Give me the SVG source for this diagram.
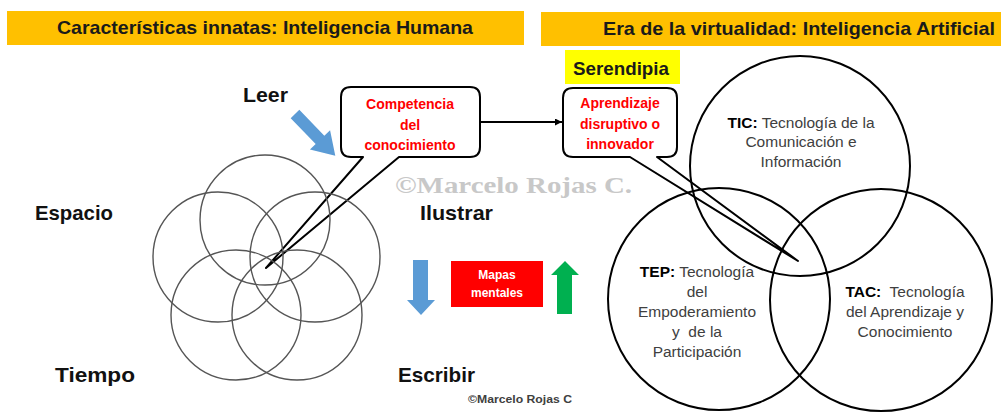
<svg xmlns="http://www.w3.org/2000/svg" width="1001" height="412" viewBox="0 0 1001 412">
<style>
.hdr{fill:#FFC000}
.htxt{font-family:"Liberation Sans",Arial,sans-serif;font-weight:bold;font-size:19px;fill:#1a1a1a}
.lbl{font-family:"Liberation Sans",Arial,sans-serif;font-weight:bold;font-size:21px;fill:#111}
.red{font-family:"Liberation Sans",Arial,sans-serif;font-weight:bold;font-size:14px;fill:#FF0000;text-anchor:middle}
.call{fill:#fff;stroke:#000;stroke-width:2;stroke-linejoin:round}
.lc{fill:none;stroke:#555;stroke-width:1.4}
.vc{fill:none;stroke:#000;stroke-width:2}
.vt{font-family:"Liberation Sans",Arial,sans-serif;font-size:15.5px;fill:#404040;text-anchor:middle}
.vt .b{font-weight:bold;fill:#000}
.wm{font-family:"Liberation Serif","Times New Roman",serif;font-weight:bold;font-size:23px;fill:#C8C8C8}
</style>
<defs>
<marker id="ah" viewBox="0 0 10 10" refX="10" refY="5" markerWidth="7" markerHeight="7" orient="auto" markerUnits="userSpaceOnUse">
<path d="M0,0 L10,5 L0,10 z" fill="#000"/>
</marker>
</defs>
<rect width="1001" height="412" fill="#fff"/>

<g id="header-left">
<rect class="hdr" x="7" y="11" width="517" height="34"/>
<text class="htxt" x="57" y="34" textLength="416" lengthAdjust="spacingAndGlyphs">Características innatas: Inteligencia Humana</text>
</g>
<g id="header-right">
<rect class="hdr" x="541" y="12" width="460" height="34"/>
<text class="htxt" x="603" y="35" textLength="392" lengthAdjust="spacingAndGlyphs">Era de la virtualidad: Inteligencia Artificial</text>
</g>

<g id="watermark">
<text class="wm" x="395" y="193" textLength="237" lengthAdjust="spacingAndGlyphs">©Marcelo Rojas C.</text>
</g>

<g id="callout-competencia">
<path class="call" d="M351,87 H470 Q480,87 480,97 V147 Q480,157 470,157 H399 L266,268 L363,157 H351 Q341,157 341,147 V97 Q341,87 351,87 Z"/>
<text class="red" x="410" y="109">Competencia</text>
<text class="red" x="410" y="130">del</text>
<text class="red" x="410" y="150">conocimiento</text>
</g>

<g id="serendipia">
<rect x="565" y="50" width="115" height="34" fill="#FFFF00"/>
<text class="htxt" x="573" y="75" textLength="96" lengthAdjust="spacingAndGlyphs" style="font-size:18.5px">Serendipia</text>
</g>

<g id="callout-aprendizaje">
<path class="call" d="M573,88 H667 Q677,88 677,98 V147 Q677,157 667,157 H657 L798,261 L630,157 H573 Q563,157 563,147 V98 Q563,88 573,88 Z"/>
<text class="red" x="620" y="108">Aprendizaje</text>
<text class="red" x="620" y="129">disruptivo o</text>
<text class="red" x="620" y="149">innovador</text>
</g>

<g id="connectors">
<line x1="480" y1="122" x2="562" y2="122" stroke="#000" stroke-width="2" marker-end="url(#ah)"/>
</g>

<g id="left-circles">
<circle class="lc" cx="265" cy="220" r="65"/>
<circle class="lc" cx="315" cy="257" r="65"/>
<circle class="lc" cx="297" cy="315" r="65"/>
<circle class="lc" cx="236" cy="315" r="65"/>
<circle class="lc" cx="218" cy="257" r="65"/>
</g>

<g id="arrow-leer">
<polygon fill="#5B9BD5" transform="translate(295,114) rotate(46)" points="0,-6 36,-6 36,-14 58,0 36,14 36,6 0,6"/>
</g>

<g id="labels">
<text class="lbl" x="243" y="102" textLength="45" lengthAdjust="spacingAndGlyphs">Leer</text>
<text class="lbl" x="35" y="220" textLength="78" lengthAdjust="spacingAndGlyphs">Espacio</text>
<text class="lbl" x="55" y="382" textLength="80" lengthAdjust="spacingAndGlyphs">Tiempo</text>
<text class="lbl" x="420" y="220" textLength="73" lengthAdjust="spacingAndGlyphs">Ilustrar</text>
<text class="lbl" x="398" y="382" textLength="77" lengthAdjust="spacingAndGlyphs">Escribir</text>
</g>

<g id="arrow-down">
<polygon fill="#5B9BD5" points="413,260 428,260 428,300 435,300 421,315 407,300 413,300"/>
</g>
<g id="mapas-mentales">
<rect x="451" y="261" width="92" height="46" fill="#FF0000"/>
<text x="497" y="279" text-anchor="middle" font-family="Liberation Sans, Arial, sans-serif" font-weight="bold" font-size="12" fill="#fff">Mapas</text>
<text x="497" y="297" text-anchor="middle" font-family="Liberation Sans, Arial, sans-serif" font-weight="bold" font-size="12" fill="#fff">mentales</text>
</g>
<g id="arrow-up">
<polygon fill="#00B050" points="565,261 579,275 572,275 572,314 557,314 557,275 551,275"/>
</g>

<g id="venn">
<circle class="vc" cx="800" cy="166" r="110"/>
<circle class="vc" cx="719" cy="299" r="111"/>
<circle class="vc" cx="881" cy="300" r="111"/>
</g>

<g id="tic">
<text class="vt" x="801" y="128"><tspan class="b">TIC:</tspan> Tecnología de la</text>
<text class="vt" x="801" y="147">Comunicación e</text>
<text class="vt" x="801" y="167">Información</text>
</g>
<g id="tep">
<text class="vt" x="697" y="277"><tspan class="b">TEP:</tspan> Tecnología</text>
<text class="vt" x="697" y="297">del</text>
<text class="vt" x="697" y="317">Empoderamiento</text>
<text class="vt" x="697" y="337" xml:space="preserve">y  de la</text>
<text class="vt" x="697" y="357">Participación</text>
</g>
<g id="tac">
<text class="vt" x="905" y="297" xml:space="preserve"><tspan class="b">TAC:</tspan>  Tecnología</text>
<text class="vt" x="905" y="317">del Aprendizaje y</text>
<text class="vt" x="905" y="337">Conocimiento</text>
</g>

<g id="copyright">
<text x="468" y="403" font-family="Liberation Sans, Arial, sans-serif" font-weight="bold" font-size="10.5" fill="#404040" textLength="104" lengthAdjust="spacingAndGlyphs">©Marcelo Rojas C</text>
</g>
</svg>
